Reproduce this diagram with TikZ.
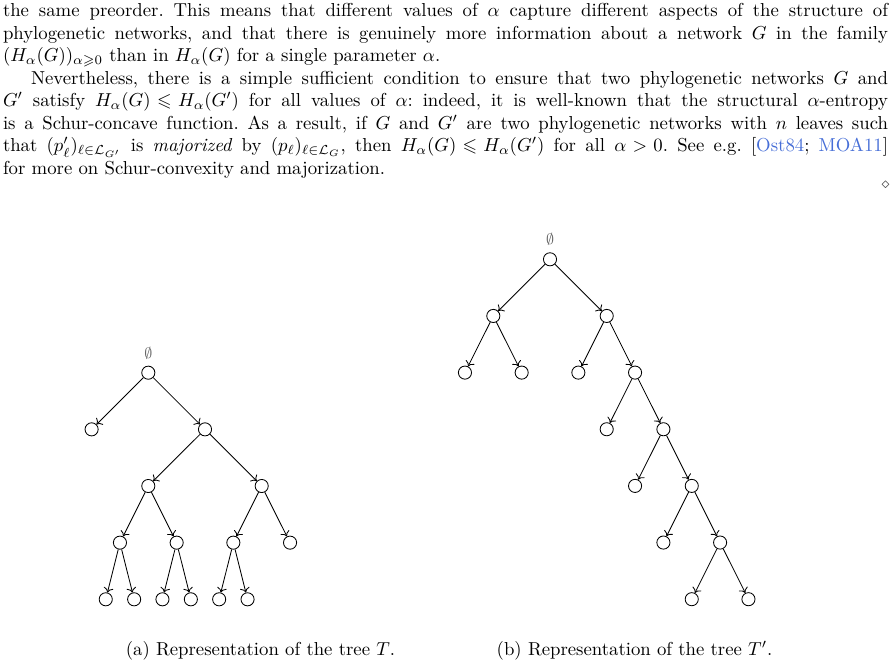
\documentclass[tikz,border=0pt]{standalone}
\usepackage{amsmath,amssymb}
\usetikzlibrary{arrows.meta}
\definecolor{citeblue}{RGB}{70,110,215}
\frenchspacing
\thickmuskip=5mu plus 1mu
\medmuskip=4mu plus 1mu minus 4mu
\begin{document}
\begin{tikzpicture}[x=0.53333pt,y=-0.53333pt,
  txt/.style={anchor=base west, inner sep=0pt, outer sep=0pt},
  vtx/.style={circle, draw, minimum size=7pt, inner sep=0pt, line width=0.45pt},
  edge/.style={-{To[length=2.6pt,width=5.2pt]}, line width=0.45pt},
  rootlbl/.style={font=\footnotesize, text=black!60, inner sep=0pt},
  captxt/.style={anchor=base, inner sep=0pt}]
\useasboundingbox (0,0) rectangle (896,663);
% ---------- text ----------
\node[txt] (l1) at (3,16.7) {\makebox[472pt][s]{the same preorder. This means that different values of $\alpha$ capture different aspects of the structure of}};
\node[txt] (l2) at (3,39.2) {\makebox[472pt][s]{phylogenetic networks, and that there is genuinely more information about a network $G$ in the family}};
\node[txt] (l3) at (3,61.7) {$(H_\alpha(G))_{\alpha\geqslant 0}$ than in $H_\alpha(G)$ for a single parameter $\alpha$.};
\node[txt] (l4) at (31.1,84.2) {\makebox[457pt][s]{Nevertheless, there is a simple sufficient condition to ensure that two phylogenetic networks $G$ and}};
\node[txt] (l5) at (3,106.7) {\makebox[472pt][s]{$G'$ satisfy $H_\alpha(G)\leqslant H_\alpha(G')$ for all values of $\alpha$: indeed, it is well-known that the structural $\alpha$-entropy}};
\node[txt] (l6) at (3,129.2) {\makebox[472pt][s]{is a Schur-concave function. As a result, if $G$ and $G'$ are two phylogenetic networks with $n$ leaves such}};
\node[txt] (l7) at (3,151.7) {\makebox[472pt][s]{that $(p'_\ell)_{\ell\in\mathcal{L}_{G'}}$ is \emph{majorized} by $(p_\ell)_{\ell\in\mathcal{L}_G}$, then $H_\alpha(G)\leqslant H_\alpha(G')$ for all $\alpha>0$. See e.g. [{\color{citeblue}Ost84}; {\color{citeblue}MOA11}]}};
\node[txt] (l8) at (3,174.2) {for more on Schur-convexity and majorization.};
\node[inner sep=0pt, text=black!75, font=\footnotesize] (qed) at (885.7,185) {$\diamond$};
% ---------- tree T ----------
\node[vtx] (r)  at (148.3,372.7) {};
\node[rootlbl] (rl) at (148.3,353.3) {$\emptyset$};
\node[vtx] (a1) at (91.6,429.35) {};
\node[vtx] (a2) at (205,429.35) {};
\node[vtx] (b1) at (148.3,486) {};
\node[vtx] (b2) at (261.7,486) {};
\node[vtx] (c1) at (119.95,542.65) {};
\node[vtx] (c2) at (176.65,542.65) {};
\node[vtx] (c3) at (233.35,542.65) {};
\node[vtx] (c4) at (290.05,542.65) {};
\node[vtx] (d1) at (105.75,599.3) {};
\node[vtx] (d2) at (134.15,599.3) {};
\node[vtx] (d3) at (162.45,599.3) {};
\node[vtx] (d4) at (190.85,599.3) {};
\node[vtx] (d5) at (219.15,599.3) {};
\node[vtx] (d6) at (247.55,599.3) {};
\draw[edge] (r) -- (a1);
\draw[edge] (r) -- (a2);
\draw[edge] (a2) -- (b1);
\draw[edge] (a2) -- (b2);
\draw[edge] (b1) -- (c1);
\draw[edge] (b1) -- (c2);
\draw[edge] (b2) -- (c3);
\draw[edge] (b2) -- (c4);
\draw[edge] (c1) -- (d1);
\draw[edge] (c1) -- (d2);
\draw[edge] (c2) -- (d3);
\draw[edge] (c2) -- (d4);
\draw[edge] (c3) -- (d5);
\draw[edge] (c3) -- (d6);
% ---------- tree T' ----------
\node[vtx] (s)  at (550,259.3) {};
\node[rootlbl] (sl) at (550,239.5) {$\emptyset$};
\node[vtx] (e1) at (493.3,315.95) {};
\node[vtx] (e2) at (606.7,315.95) {};
\node[vtx] (f1) at (464.95,372.6) {};
\node[vtx] (f2) at (521.65,372.6) {};
\node[vtx] (f3) at (578.35,372.6) {};
\node[vtx] (f4) at (635.05,372.6) {};
\node[vtx] (g1) at (606.7,429.25) {};
\node[vtx] (g2) at (663.4,429.25) {};
\node[vtx] (h1) at (635.05,485.9) {};
\node[vtx] (h2) at (691.75,485.9) {};
\node[vtx] (i1) at (663.4,542.55) {};
\node[vtx] (i2) at (720.1,542.55) {};
\node[vtx] (j1) at (691.75,599.2) {};
\node[vtx] (j2) at (748.45,599.2) {};
\draw[edge] (s) -- (e1);
\draw[edge] (s) -- (e2);
\draw[edge] (e1) -- (f1);
\draw[edge] (e1) -- (f2);
\draw[edge] (e2) -- (f3);
\draw[edge] (e2) -- (f4);
\draw[edge] (f4) -- (g1);
\draw[edge] (f4) -- (g2);
\draw[edge] (g2) -- (h1);
\draw[edge] (g2) -- (h2);
\draw[edge] (h2) -- (i1);
\draw[edge] (h2) -- (i2);
\draw[edge] (i2) -- (j1);
\draw[edge] (i2) -- (j2);
% ---------- captions ----------
\node[captxt] (capa) at (260.5,655) {(a) Representation of the tree $T$.};
\node[captxt] (capb) at (634.5,655) {(b) Representation of the tree $T'$.};
\end{tikzpicture}
\end{document}
